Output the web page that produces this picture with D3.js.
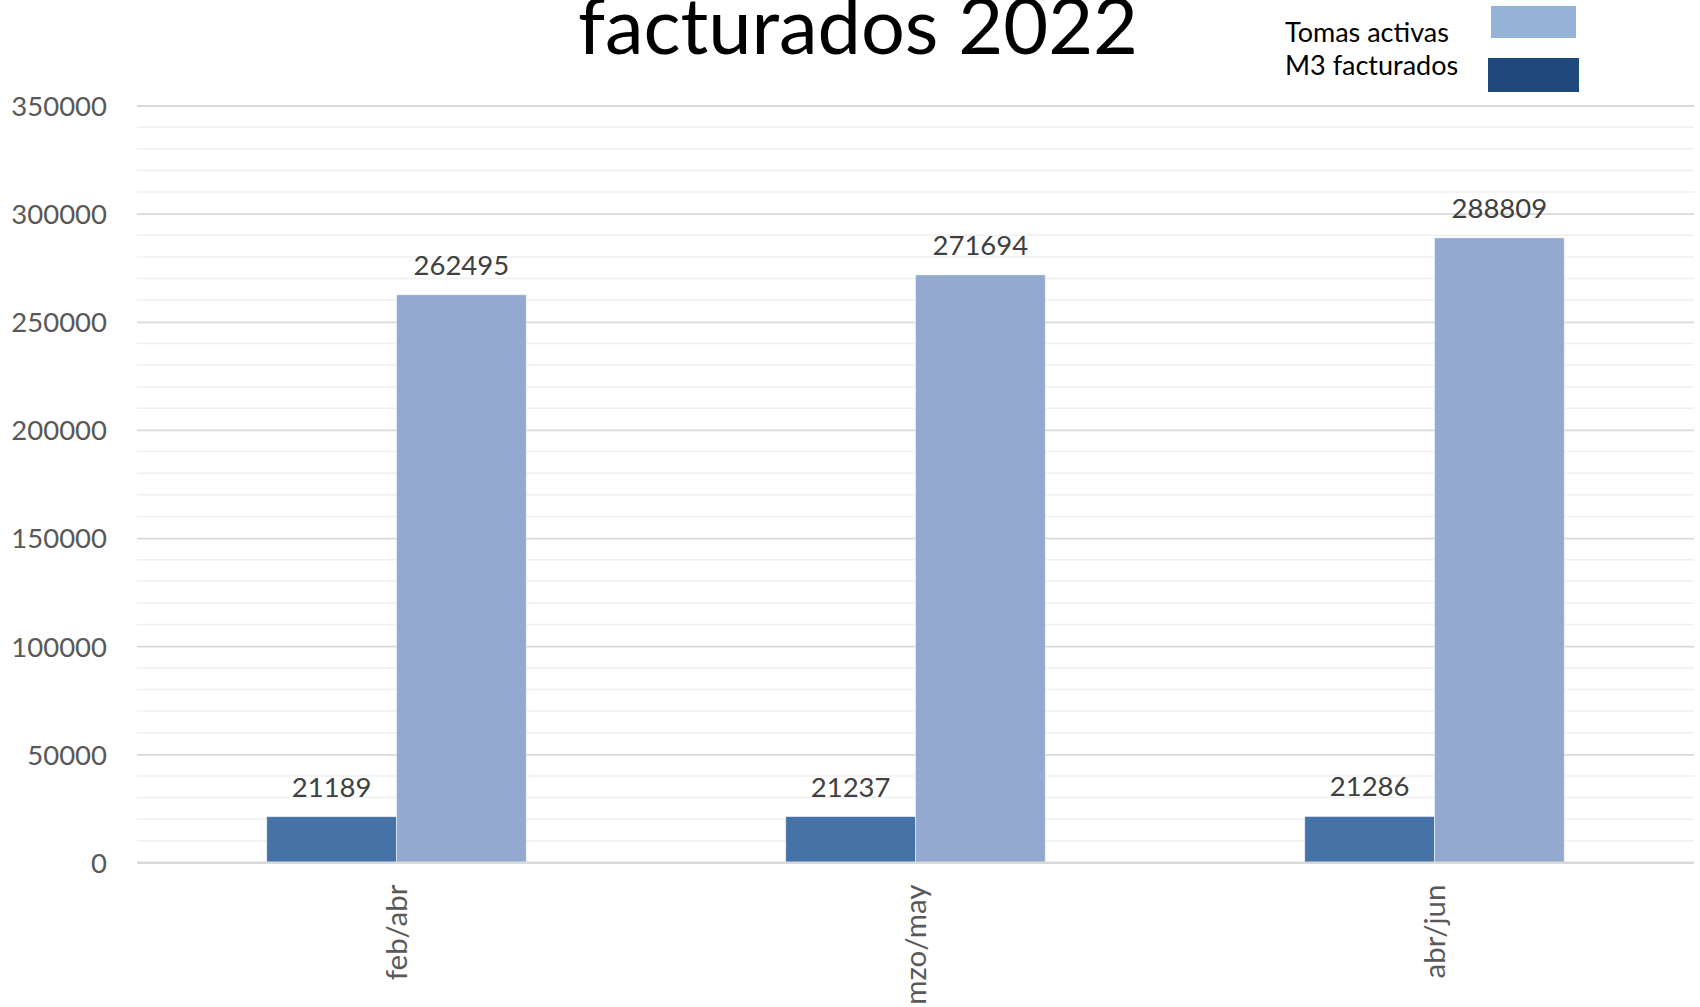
<!DOCTYPE html>
<html>
<head>
<meta charset="utf-8">
<script src="https://cdn.jsdelivr.net/npm/d3@7"></script>
<style>
  html, body { margin: 0; padding: 0; background: #fff; }
  svg { display: block; font-family: Lato, "Open Sans", sans-serif; }
</style>
</head>
<body>
<svg id="chart" width="1700" height="1007"></svg>
<script>
// ---- data ----
const categories = ["feb/abr", "mzo/may", "abr/jun"];
const seriesNames = ["M3 facturados", "Tomas activas"];
const m3Facturados = [21189, 21237, 21286];
const tomasActivas = [262495, 271694, 288809];
const yTicks = [0, 50000, 100000, 150000, 200000, 250000, 300000, 350000];
const titleText = "facturados 2022";
const legendNames = ["Tomas activas", "M3 facturados"];

const barColors = ["#4572A7", "#94A9CF"];
const legendColors = ["#95B3D7", "#1F497D"];

const svg = d3.select("#chart");
const plot = {left: 137, right: 1694, top: 105.5, bottom: 862.5};

const x = d3.scaleBand().domain(categories).range([plot.left, plot.right]).padding(0);
const xs = d3.scaleBand().domain(seriesNames)
  .range([x.bandwidth() * 0.25, x.bandwidth() * 0.75]).padding(0);
const y = d3.scaleLinear().domain([0, 350000]).range([plot.bottom, plot.top]);

// minor gridlines
const minor = d3.range(0, 350001, 10000).filter(v => v % 50000 !== 0);
svg.append("g").selectAll("line").data(minor).join("line")
  .attr("x1", plot.left).attr("x2", plot.right)
  .attr("y1", d => y(d)).attr("y2", d => y(d))
  .attr("stroke", "#f0f0f0").attr("stroke-width", 1.5);

// major gridlines + y labels via axis
const yAxis = d3.axisLeft(y).tickValues(yTicks).tickSize(-(plot.right - plot.left)).tickPadding(30).tickFormat(d3.format("d"));
const gy = svg.append("g").attr("transform", `translate(${plot.left},0)`).call(yAxis);
gy.select(".domain").remove();
gy.selectAll(".tick line").attr("stroke", "#d9d9d9").attr("stroke-width", 1.8);
gy.selectAll(".tick text").attr("fill", "#595959").attr("font-size", 27.5)
  .attr("font-family", "Lato, sans-serif").attr("dy", "0.36em");

// bars
const data = categories.map((c, i) => ({cat: c, vals: [m3Facturados[i], tomasActivas[i]]}));
const groups = svg.append("g").selectAll("g").data(data).join("g")
  .attr("transform", d => `translate(${x(d.cat)},0)`);
groups.selectAll("rect").data(d => d.vals.map((v, j) => ({name: seriesNames[j], v, j}))).join("rect")
  .attr("x", d => xs(d.name)).attr("width", xs.bandwidth())
  .attr("y", d => y(d.v)).attr("height", d => y(0) - y(d.v))
  .attr("fill", d => barColors[d.j])
  .attr("stroke", "#ffffff").attr("stroke-width", 0.8).attr("stroke-opacity", 0.6);
groups.selectAll("text").data(d => d.vals.map((v, j) => ({name: seriesNames[j], v, j}))).join("text")
  .attr("x", d => xs(d.name) + xs.bandwidth() / 2)
  .attr("y", d => y(d.v) - 20)
  .attr("text-anchor", "middle").attr("fill", "#404040").attr("font-size", 27.5)
  .text(d => d.v);

// x axis baseline
svg.append("line").attr("x1", plot.left).attr("x2", plot.right)
  .attr("y1", y(0)).attr("y2", y(0)).attr("stroke", "#d9d9d9").attr("stroke-width", 2);

// x labels rotated
svg.append("g").selectAll("text").data(categories).join("text")
  .attr("transform", d => `translate(${x(d) + x.bandwidth() / 2},${plot.bottom + 22}) rotate(-90)`)
  .attr("text-anchor", "end").attr("dy", "0.36em")
  .attr("fill", "#595959").attr("font-size", 29.5)
  .text(d => d);

// title (partially cut off at top, as in the reference)
svg.append("text").attr("x", 858).attr("y", 54).attr("text-anchor", "middle")
  .attr("font-size", 77.5).attr("fill", "#000").text(titleText);

// legend
const legRects = [{x: 1491, y: 6, w: 85, h: 32}, {x: 1488, y: 58, w: 91, h: 34}];
const legBase = [41.5, 75];
legendNames.forEach((n, i) => {
  svg.append("text").attr("x", 1285).attr("y", legBase[i]).attr("font-size", 27)
    .attr("fill", "#000").text(n);
  svg.append("rect").attr("x", legRects[i].x).attr("y", legRects[i].y)
    .attr("width", legRects[i].w).attr("height", legRects[i].h).attr("fill", legendColors[i]);
});
</script>
</body>
</html>
